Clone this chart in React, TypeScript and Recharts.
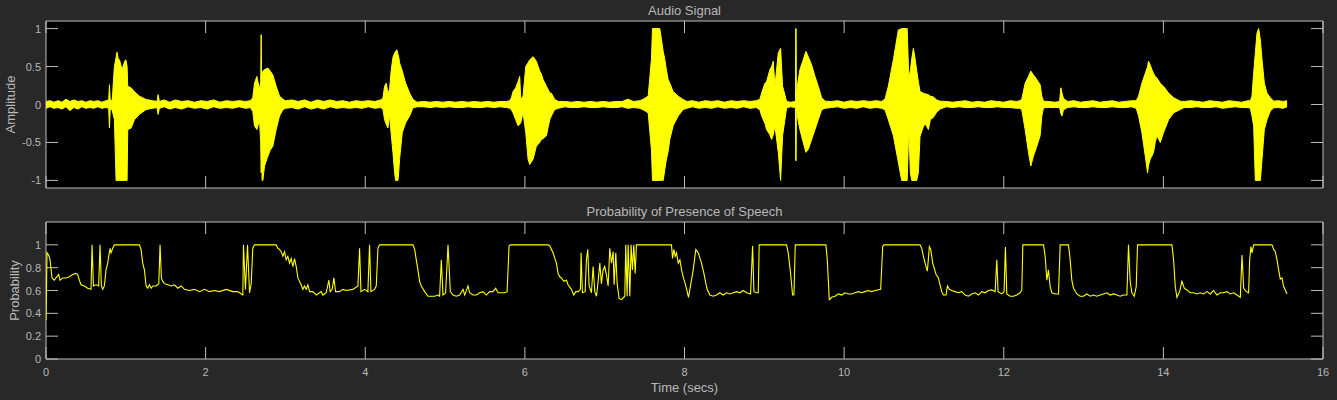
import React from 'react';
import { ComposedChart, Area, Line, XAxis, YAxis, CartesianGrid } from 'recharts';

// ---------- DATA ----------
const xTicks = [0, 2, 4, 6, 8, 10, 12, 14, 16];
const ampTicks = [-1, -0.5, 0, 0.5, 1];
const probTicks = [0, 0.2, 0.4, 0.6, 0.8, 1];

// audio envelope: [time, upper, lower]
const noise0 = [[0,0.04,-0.05],[0.05,0.05,-0.03],[0.1,0.03,-0.05],[0.15,0.05,-0.04],[0.2,0.03,-0.06],[0.25,0.07,-0.03],[0.3,0.04,-0.08],[0.35,0.06,-0.04],[0.4,0.04,-0.06],[0.45,0.05,-0.03],[0.5,0.03,-0.05],[0.55,0.05,-0.04],[0.6,0.04,-0.05],[0.65,0.05,-0.03],[0.7,0.03,-0.05],[0.75,0.05,-0.04]];
const burst1 = [[0.786,0.06,-0.05],[0.795,0.26,-0.31],[0.805,0.05,-0.05],[0.83,0.06,-0.08],[0.857,0.5,-0.2],[0.878,0.62,-1.0],[0.89,0.69,-1.0],[0.905,0.6,-1.0],[0.92,0.59,-1.0],[0.953,0.46,-1.0],[0.986,0.57,-1.0],[1.0,0.59,-1.0],[1.016,0.5,-1.0],[1.024,0.24,-0.33],[1.066,0.22,-0.31],[1.108,0.17,-0.2],[1.17,0.11,-0.13],[1.254,0.066,-0.066],[1.337,0.05,-0.05],[1.39,0.04,-0.04],[1.405,0.13,-0.13],[1.42,0.04,-0.05]];
const noise1 = [[1.48,0.06,-0.03],[1.55,0.03,-0.06],[1.62,0.06,-0.04],[1.7,0.04,-0.06],[1.78,0.05,-0.03],[1.86,0.03,-0.05],[1.94,0.05,-0.04],[2.02,0.04,-0.06],[2.1,0.06,-0.03],[2.18,0.03,-0.05],[2.26,0.05,-0.04],[2.34,0.04,-0.05],[2.42,0.05,-0.03],[2.5,0.04,-0.05],[2.56,0.05,-0.04]];
const burst2 = [[2.591,0.09,-0.09],[2.612,0.28,-0.28],[2.642,0.37,-0.33],[2.675,0.2,-0.2],[2.69,0.3,-0.5],[2.696,0.92,-0.9],[2.702,0.3,-0.6],[2.708,0.4,-1.0],[2.717,0.44,-1.0],[2.738,0.46,-0.81],[2.78,0.48,-0.68],[2.81,0.44,-0.6],[2.842,0.39,-0.55],[2.884,0.24,-0.33],[2.926,0.11,-0.15],[2.968,0.07,-0.07],[3.0,0.05,-0.05]];
const noise2 = [[3.08,0.06,-0.04],[3.16,0.04,-0.06],[3.24,0.06,-0.03],[3.32,0.03,-0.06],[3.4,0.06,-0.04],[3.48,0.04,-0.06],[3.56,0.06,-0.03],[3.64,0.04,-0.05],[3.72,0.05,-0.04],[3.8,0.03,-0.05],[3.88,0.05,-0.04],[3.96,0.04,-0.05],[4.04,0.05,-0.03],[4.12,0.04,-0.05],[4.19,0.06,-0.04]];
const burst3 = [[4.221,0.08,-0.06],[4.242,0.24,-0.2],[4.263,0.28,-0.26],[4.284,0.15,-0.31],[4.305,0.2,-0.15],[4.326,0.46,-0.4],[4.347,0.62,-0.63],[4.368,0.68,-0.9],[4.38,0.7,-1.0],[4.397,0.72,-1.0],[4.41,0.66,-1.0],[4.422,0.61,-0.85],[4.43,0.55,-0.72],[4.464,0.44,-0.37],[4.506,0.28,-0.24],[4.556,0.15,-0.15],[4.598,0.066,-0.044],[4.65,0.03,-0.03]];
const noise3 = [[4.73,0.04,-0.03],[4.81,0.03,-0.04],[4.89,0.04,-0.03],[4.97,0.03,-0.04],[5.05,0.04,-0.03],[5.13,0.03,-0.04],[5.21,0.04,-0.04],[5.29,0.03,-0.03],[5.37,0.04,-0.04],[5.45,0.03,-0.04],[5.53,0.04,-0.03],[5.61,0.03,-0.04],[5.69,0.04,-0.03],[5.77,0.04,-0.04],[5.81,0.05,-0.05]];
const burst4 = [[5.831,0.09,-0.07],[5.852,0.17,-0.11],[5.885,0.22,-0.2],[5.914,0.3,-0.28],[5.935,0.37,-0.26],[5.948,0.07,-0.24],[5.977,0.11,-0.11],[6.011,0.5,-0.37],[6.04,0.55,-0.72],[6.061,0.59,-0.79],[6.103,0.63,-0.72],[6.144,0.57,-0.55],[6.186,0.44,-0.5],[6.207,0.4,-0.46],[6.228,0.33,-0.45],[6.27,0.24,-0.41],[6.291,0.2,-0.3],[6.312,0.15,-0.2],[6.332,0.15,-0.15],[6.374,0.066,-0.066],[6.42,0.04,-0.05]];
const noise4 = [[6.5,0.04,-0.03],[6.58,0.03,-0.04],[6.66,0.04,-0.04],[6.74,0.03,-0.03],[6.82,0.04,-0.04],[6.9,0.03,-0.04],[6.98,0.04,-0.03],[7.06,0.03,-0.04],[7.14,0.04,-0.04],[7.22,0.04,-0.03],[7.29,0.07,-0.05],[7.36,0.04,-0.04],[7.44,0.05,-0.05]];
const burst5 = [[7.482,0.07,-0.07],[7.545,0.11,-0.11],[7.586,0.6,-0.6],[7.599,1.0,-1.0],[7.69,1.0,-1.0],[7.712,0.85,-1.0],[7.733,0.7,-1.0],[7.754,0.59,-0.85],[7.774,0.45,-0.72],[7.795,0.33,-0.62],[7.816,0.28,-0.46],[7.858,0.17,-0.28],[7.921,0.11,-0.15],[7.983,0.066,-0.066],[8.03,0.04,-0.05]];
const noise5 = [[8.1,0.05,-0.03],[8.18,0.03,-0.05],[8.26,0.05,-0.04],[8.34,0.04,-0.05],[8.42,0.05,-0.03],[8.5,0.03,-0.05],[8.58,0.05,-0.04],[8.66,0.04,-0.05],[8.74,0.05,-0.03],[8.82,0.04,-0.05],[8.9,0.05,-0.04]];
const burst6 = [[8.945,0.07,-0.07],[8.966,0.15,-0.15],[9.008,0.28,-0.25],[9.028,0.3,-0.33],[9.07,0.46,-0.4],[9.091,0.5,-0.46],[9.112,0.57,-0.4],[9.133,0.24,-0.28],[9.175,0.68,-0.63],[9.204,0.74,-1.0],[9.229,0.24,-0.41],[9.279,0.04,-0.044],[9.33,0.03,-0.03],[9.39,0.04,-0.04],[9.394,1.0,-0.74],[9.398,1.0,-0.74],[9.402,0.04,-0.04],[9.413,0.24,-0.15],[9.446,0.46,-0.33],[9.488,0.59,-0.5],[9.521,0.7,-0.63],[9.551,0.63,-0.59],[9.593,0.52,-0.46],[9.635,0.37,-0.33],[9.676,0.24,-0.2],[9.718,0.09,-0.07],[9.76,0.044,-0.05]];
const noise6 = [[9.84,0.04,-0.04],[9.92,0.05,-0.03],[10.0,0.03,-0.05],[10.08,0.05,-0.04],[10.16,0.04,-0.05],[10.24,0.05,-0.03],[10.32,0.04,-0.05],[10.4,0.05,-0.04],[10.47,0.04,-0.05]];
const burst8 = [[10.512,0.07,-0.07],[10.554,0.24,-0.2],[10.617,0.59,-0.41],[10.679,0.98,-0.76],[10.721,1.0,-1.0],[10.79,1.0,-1.0],[10.81,0.35,-0.3],[10.83,0.45,-0.9],[10.847,0.6,-1.0],[10.868,0.74,-1.0],[10.889,0.6,-1.0],[10.909,0.45,-1.0],[10.93,0.3,-0.9],[10.951,0.17,-0.42],[10.99,0.15,-0.3],[11.014,0.14,-0.25],[11.056,0.13,-0.33],[11.08,0.11,-0.2],[11.118,0.1,-0.17],[11.16,0.06,-0.1],[11.202,0.044,-0.06]];
const noise7 = [[11.28,0.04,-0.03],[11.36,0.03,-0.04],[11.44,0.04,-0.03],[11.52,0.05,-0.04],[11.6,0.03,-0.04],[11.68,0.04,-0.03],[11.76,0.03,-0.04],[11.84,0.05,-0.04],[11.92,0.04,-0.03],[12.0,0.03,-0.04],[12.08,0.05,-0.04],[12.16,0.04,-0.05],[12.2,0.05,-0.05]];
const burst9 = [[12.226,0.07,-0.07],[12.268,0.28,-0.33],[12.31,0.37,-0.63],[12.339,0.44,-0.81],[12.372,0.39,-0.68],[12.414,0.33,-0.55],[12.456,0.26,-0.41],[12.477,0.11,-0.15],[12.498,0.044,-0.044]];
const noise8 = [[12.56,0.04,-0.04],[12.64,0.03,-0.04],[12.7,0.04,-0.04],[12.715,0.22,-0.12],[12.73,0.15,-0.15],[12.748,0.08,-0.07],[12.8,0.04,-0.04],[12.88,0.05,-0.03],[12.96,0.03,-0.04],[13.04,0.04,-0.04],[13.12,0.05,-0.03],[13.2,0.03,-0.04],[13.28,0.04,-0.04],[13.36,0.05,-0.03],[13.44,0.03,-0.04],[13.52,0.04,-0.04],[13.6,0.05,-0.03],[13.66,0.05,-0.05]];
const burst10 = [[13.689,0.11,-0.15],[13.731,0.28,-0.37],[13.773,0.41,-0.68],[13.802,0.5,-0.9],[13.814,0.57,-0.8],[13.835,0.52,-0.72],[13.856,0.46,-0.68],[13.877,0.41,-0.63],[13.898,0.37,-0.5],[13.919,0.35,-0.41],[13.961,0.28,-0.5],[14.002,0.24,-0.37],[14.065,0.15,-0.2],[14.128,0.09,-0.11],[14.211,0.044,-0.066],[14.26,0.04,-0.04]];
const noise9 = [[14.34,0.05,-0.04],[14.42,0.04,-0.03],[14.5,0.03,-0.04],[14.58,0.05,-0.04],[14.66,0.04,-0.03],[14.74,0.03,-0.05],[14.82,0.05,-0.04],[14.9,0.04,-0.03],[14.98,0.03,-0.04],[15.06,0.05,-0.04],[15.09,0.05,-0.05]];
const burst11 = [[15.11,0.11,-0.15],[15.131,0.41,-0.28],[15.152,0.68,-1.0],[15.173,0.94,-1.0],[15.194,1.0,-1.0],[15.215,0.85,-1.0],[15.236,0.59,-0.72],[15.265,0.28,-0.33],[15.298,0.15,-0.2],[15.34,0.09,-0.087],[15.382,0.044,-0.044],[15.44,0.05,-0.04],[15.5,0.04,-0.05],[15.55,0.05,-0.03]];

// probability of speech: [time, prob]
const prob1 = [[0.0,0.34],[0.013,0.93],[0.033,0.91],[0.05,0.87],[0.075,0.71],[0.104,0.69],[0.125,0.71],[0.159,0.74],[0.176,0.69],[0.209,0.71],[0.251,0.71],[0.293,0.72],[0.334,0.74],[0.376,0.75],[0.397,0.74],[0.418,0.69],[0.439,0.65],[0.481,0.64],[0.522,0.62],[0.564,0.61],[0.577,1.0],[0.594,0.64],[0.627,0.65],[0.66,0.64],[0.677,1.0],[0.694,0.64],[0.711,0.61],[0.731,0.64],[0.752,0.78],[0.773,0.84],[0.786,0.9],[0.803,0.97],[0.815,0.93],[0.836,0.97],[0.857,1.0],[1.17,1.0],[1.191,0.96],[1.212,0.84],[1.233,0.78],[1.254,0.64],[1.275,0.62],[1.296,0.65],[1.317,0.62],[1.338,0.64],[1.379,0.64],[1.413,0.66],[1.429,1.0],[1.446,0.71],[1.463,0.68],[1.484,0.66],[1.526,0.65],[1.567,0.64],[1.609,0.65],[1.651,0.62],[1.693,0.64],[1.735,0.61],[1.797,0.6],[1.86,0.61],[1.923,0.59],[1.985,0.61],[2.048,0.59],[2.111,0.6],[2.173,0.59],[2.257,0.61],[2.341,0.59],[2.403,0.59],[2.466,0.56],[2.474,1.0],[2.499,0.61],[2.525,1.0],[2.55,0.58],[2.571,0.66],[2.591,0.97],[2.612,1.0],[2.884,1.0],[2.905,0.97],[2.926,0.96],[2.947,0.94],[2.968,0.9],[2.989,0.94],[3.009,0.87],[3.03,0.9],[3.051,0.84],[3.072,0.88],[3.093,0.81],[3.114,0.88],[3.135,0.81],[3.156,0.71],[3.177,0.68],[3.197,0.65],[3.218,0.61],[3.239,0.64],[3.26,0.61],[3.281,0.65],[3.302,0.59],[3.344,0.59],[3.386,0.56],[3.427,0.58],[3.448,0.59],[3.469,0.56],[3.511,0.58],[3.544,0.69],[3.561,0.59],[3.586,0.61],[3.607,0.71],[3.628,0.59],[3.678,0.59],[3.72,0.61],[3.762,0.6],[3.845,0.61],[3.908,0.64],[3.929,0.97],[3.946,0.59],[3.992,0.61],[4.033,0.59],[4.054,1.0],[4.071,0.59],[4.117,0.61],[4.138,0.64],[4.159,0.97],[4.18,1.0],[4.598,1.0],[4.619,0.96],[4.639,0.87],[4.66,0.78],[4.681,0.68],[4.702,0.64],[4.744,0.59],[4.786,0.55],[4.828,0.55],[4.869,0.55],[4.911,0.56],[4.932,0.55],[4.953,0.87],[4.974,0.56],[5.007,0.58],[5.037,1.0],[5.066,0.59],[5.099,0.56],[5.141,0.55],[5.183,0.56],[5.225,0.61],[5.246,0.56],[5.287,0.64],[5.308,0.58],[5.35,0.56],[5.392,0.56]];
const prob2 = [[5.434,0.58],[5.476,0.59],[5.517,0.56],[5.559,0.59],[5.601,0.59],[5.634,0.62],[5.664,0.58],[5.705,0.58],[5.747,0.58],[5.777,0.59],[5.789,0.78],[5.802,0.99],[5.818,1.0],[6.291,1.0],[6.312,0.99],[6.353,0.93],[6.395,0.84],[6.416,0.75],[6.437,0.72],[6.458,0.71],[6.487,0.68],[6.521,0.69],[6.541,0.65],[6.583,0.61],[6.612,0.56],[6.638,0.59],[6.667,0.59],[6.696,0.61],[6.704,0.93],[6.721,0.58],[6.755,0.59],[6.771,0.87],[6.788,0.96],[6.805,0.64],[6.834,0.58],[6.855,0.81],[6.876,0.59],[6.897,0.55],[6.918,0.68],[6.939,0.84],[6.959,0.66],[6.98,0.78],[7.001,0.81],[7.022,0.74],[7.043,0.64],[7.064,0.97],[7.085,0.84],[7.106,0.94],[7.118,0.65],[7.139,0.93],[7.156,0.66],[7.181,0.53],[7.21,0.52],[7.252,0.55],[7.264,1.0],[7.281,0.55],[7.294,1.0],[7.315,0.55],[7.331,1.0],[7.348,0.78],[7.365,1.0],[7.382,0.75],[7.398,1.0],[7.419,1.0],[7.837,1.0],[7.85,0.88],[7.866,0.96],[7.883,0.9],[7.9,0.93],[7.921,0.84],[7.942,0.87],[7.963,0.78],[7.983,0.72],[8.017,0.64],[8.05,0.54],[8.075,0.64],[8.109,0.78],[8.142,0.96],[8.172,0.93],[8.213,0.84],[8.243,0.75],[8.268,0.66],[8.284,0.61],[8.318,0.56],[8.36,0.55],[8.401,0.56],[8.443,0.58],[8.485,0.56],[8.527,0.58],[8.569,0.57],[8.61,0.58],[8.652,0.59],[8.694,0.58],[8.736,0.6],[8.778,0.58],[8.828,0.57],[8.853,0.99],[8.87,0.59],[8.903,0.58],[8.924,0.58],[8.936,1.0],[9.279,1.0],[9.3,0.93],[9.329,0.75],[9.354,0.56],[9.371,0.56],[9.388,1.0],[9.772,1.0],[9.789,0.87],[9.814,0.52],[9.843,0.54],[9.885,0.55],[9.927,0.57],[9.969,0.56],[10.011,0.58],[10.052,0.57],[10.094,0.57],[10.136,0.58],[10.178,0.59],[10.22,0.58],[10.261,0.59],[10.303,0.6],[10.345,0.59],[10.387,0.6],[10.458,0.61],[10.483,0.985],[10.5,1.0],[10.784,1.0]];
const prob3 = [[10.951,1.0],[10.972,0.97],[10.993,0.9],[11.014,0.84],[11.043,0.77],[11.068,0.985],[11.085,0.96],[11.11,0.84],[11.127,0.8],[11.152,0.74],[11.181,0.71],[11.202,0.65],[11.223,0.59],[11.244,0.56],[11.277,0.56],[11.294,0.64],[11.319,0.61],[11.348,0.6],[11.39,0.59],[11.432,0.58],[11.474,0.59],[11.515,0.56],[11.557,0.55],[11.599,0.57],[11.641,0.58],[11.683,0.56],[11.724,0.59],[11.766,0.58],[11.808,0.6],[11.85,0.605],[11.892,0.59],[11.913,0.87],[11.929,0.59],[11.975,0.57],[12.004,0.59],[12.021,0.98],[12.038,0.57],[12.08,0.55],[12.121,0.55],[12.163,0.56],[12.205,0.58],[12.226,0.605],[12.239,1.0],[12.498,1.0],[12.519,0.9],[12.54,0.69],[12.56,0.78],[12.581,0.635],[12.602,0.58],[12.644,0.57],[12.686,0.57],[12.707,1.0],[12.811,1.0],[12.832,0.87],[12.853,0.69],[12.874,0.62],[12.916,0.57],[12.957,0.55],[12.999,0.55],[13.041,0.57],[13.083,0.55],[13.125,0.56],[13.166,0.55],[13.208,0.56],[13.25,0.57],[13.292,0.58],[13.334,0.56],[13.375,0.57],[13.417,0.56],[13.459,0.55],[13.501,0.56],[13.543,0.56],[13.563,1.0],[13.584,0.68],[13.605,0.58],[13.635,0.55],[13.66,0.635],[13.676,1.0],[14.107,1.0],[14.128,0.87],[14.149,0.635],[14.17,0.54],[14.203,0.59],[14.232,0.68],[14.262,0.62],[14.295,0.605],[14.337,0.58],[14.379,0.58],[14.42,0.57],[14.462,0.58],[14.504,0.57],[14.546,0.59],[14.588,0.57],[14.629,0.6],[14.671,0.56],[14.713,0.58],[14.755,0.58],[14.797,0.59],[14.838,0.57],[14.88,0.58],[14.922,0.56],[14.964,0.54],[14.985,0.91],[15.006,0.62],[15.039,0.59],[15.068,0.58],[15.081,0.87],[15.097,0.985],[15.11,0.93],[15.131,1.0],[15.361,1.0],[15.382,0.96],[15.402,0.94],[15.423,0.87],[15.444,0.78],[15.465,0.7],[15.486,0.71],[15.507,0.635],[15.528,0.605],[15.549,0.57]];

const audioData = [
  ...noise0, ...burst1, ...noise1, ...burst2, ...noise2, ...burst3, ...noise3, ...burst4,
  ...noise4, ...burst5, ...noise5, ...burst6, ...noise6, ...burst8, ...noise7, ...burst9,
  ...noise8, ...burst10, ...noise9, ...burst11,
].map(([t, hi, lo]) => ({ t, r: [lo, hi] }));

const probData = [...prob1, ...prob2, ...prob3].map(([t, p]) => ({ t, p }));

// ---------- STYLE ----------
const W = 1337;
const BG = '#282828';
const AX = '#bcbcbc';
const TXT = '#b8b8b8';
const YEL = '#ffff00';
const FONT = '"Liberation Sans", Arial, Helvetica, sans-serif';
const TICK = 12;
const ML = 46;
const MR = 14;
const PW = W - ML - MR;

const TOP = { h: 200, mt: 21, mb: 12 };
const BOT = { h: 200, mt: 22, mb: 41 };
const topPH = TOP.h - TOP.mt - TOP.mb;
const botPH = BOT.h - BOT.mt - BOT.mb;

const makeXTick = (plotH: number, showLabel: boolean) => (props: any) => {
  const { x, y, payload } = props;
  return (
    <g>
      <line x1={x} x2={x} y1={y} y2={y - TICK} stroke={AX} strokeWidth={1} />
      <line x1={x} x2={x} y1={y - plotH} y2={y - plotH + TICK} stroke={AX} strokeWidth={1} />
      {showLabel && (
        <text x={x} y={y + 17} textAnchor="middle" fill={TXT} fontSize={11} fontFamily={FONT}>
          {String(payload.value)}
        </text>
      )}
    </g>
  );
};

const makeYTick = () => (props: any) => {
  const { x, y, payload } = props;
  return (
    <g>
      <line x1={x} x2={x + TICK} y1={y} y2={y} stroke={AX} strokeWidth={1} />
      <line x1={x + PW} x2={x + PW - TICK} y1={y} y2={y} stroke={AX} strokeWidth={1} />
      <text x={x - 5} y={y + 4} textAnchor="end" fill={TXT} fontSize={11} fontFamily={FONT}>
        {String(payload.value)}
      </text>
    </g>
  );
};

// axes frame (drawn underneath the data, like MATLAB's default layer)
const Frame = ({ h, mt, mb, data, domainY, ticksY, plotH, showXLabels }: any) => (
  <ComposedChart width={W} height={h} data={data}
    margin={{ top: mt - 1, right: MR - 1, bottom: mb - 1, left: ML - 1 }}>
    <CartesianGrid horizontal={false} vertical={false} fill="#000" fillOpacity={1} />
    <XAxis xAxisId={0} type="number" dataKey="t" domain={[0, 16]} ticks={xTicks} allowDataOverflow
      height={1} tickSize={0} tickMargin={0} tickLine={false} interval={0}
      axisLine={{ stroke: AX }} tick={makeXTick(plotH, showXLabels)} />
    <XAxis xAxisId="top" orientation="top" type="number" domain={[0, 16]} height={1}
      tick={false} tickLine={false} axisLine={{ stroke: AX }} />
    <YAxis yAxisId={0} type="number" domain={domainY} ticks={ticksY} allowDataOverflow
      width={1} tickSize={0} tickMargin={0} tickLine={false} interval={0}
      axisLine={{ stroke: AX }} tick={makeYTick()} />
    <YAxis yAxisId="right" orientation="right" type="number" domain={domainY} width={1}
      tick={false} tickLine={false} axisLine={{ stroke: AX }} />
  </ComposedChart>
);

export default function App() {
  return (
    <div style={{ position: 'absolute', left: 0, top: 0, width: W, height: 400, background: BG, overflow: 'hidden' }}>
      <div style={{ position: 'absolute', left: 0, top: 0 }}>
        <Frame h={TOP.h} mt={TOP.mt} mb={TOP.mb} data={audioData} domainY={[-1.1, 1.1]} ticksY={ampTicks} plotH={topPH} showXLabels={false} />
      </div>
      <div style={{ position: 'absolute', left: 0, top: 0 }}>
        <ComposedChart width={W} height={TOP.h} data={audioData}
          margin={{ top: TOP.mt, right: MR, bottom: TOP.mb, left: ML }}>
          <XAxis type="number" dataKey="t" domain={[0, 16]} allowDataOverflow hide />
          <YAxis type="number" domain={[-1.1, 1.1]} allowDataOverflow hide />
          <Area type="linear" dataKey="r" stroke={YEL} strokeWidth={1} fill={YEL} fillOpacity={1}
            isAnimationActive={false} dot={false} activeDot={false} />
        </ComposedChart>
      </div>
      <div style={{ position: 'absolute', left: 0, top: 200 }}>
        <Frame h={BOT.h} mt={BOT.mt} mb={BOT.mb} data={probData} domainY={[0, 1.2]} ticksY={probTicks} plotH={botPH} showXLabels={true} />
      </div>
      <div style={{ position: 'absolute', left: 0, top: 200 }}>
        <ComposedChart width={W} height={BOT.h} data={probData}
          margin={{ top: BOT.mt, right: MR, bottom: BOT.mb, left: ML }}>
          <XAxis type="number" dataKey="t" domain={[0, 16]} allowDataOverflow hide />
          <YAxis type="number" domain={[0, 1.2]} allowDataOverflow hide />
          <Line type="linear" dataKey="p" stroke={YEL} strokeWidth={1.1} dot={false} activeDot={false}
            isAnimationActive={false} />
        </ComposedChart>
      </div>
      <svg width={W} height={400} style={{ position: 'absolute', left: 0, top: 0, pointerEvents: 'none' }}>
        <text x={ML + PW / 2} y={15} textAnchor="middle" fill={TXT} fontSize={13} fontFamily={FONT}>Audio Signal</text>
        <text x={ML + PW / 2} y={216} textAnchor="middle" fill={TXT} fontSize={13} fontFamily={FONT}>Probability of Presence of Speech</text>
        <text x={ML + PW / 2} y={392} textAnchor="middle" fill={TXT} fontSize={13} fontFamily={FONT}>Time (secs)</text>
        <text transform={`translate(15, ${TOP.mt + topPH / 2}) rotate(-90)`} textAnchor="middle" fill={TXT} fontSize={13} fontFamily={FONT}>Amplitude</text>
        <text transform={`translate(19, ${200 + BOT.mt + botPH / 2}) rotate(-90)`} textAnchor="middle" fill={TXT} fontSize={13} fontFamily={FONT}>Probability</text>
      </svg>
    </div>
  );
}
